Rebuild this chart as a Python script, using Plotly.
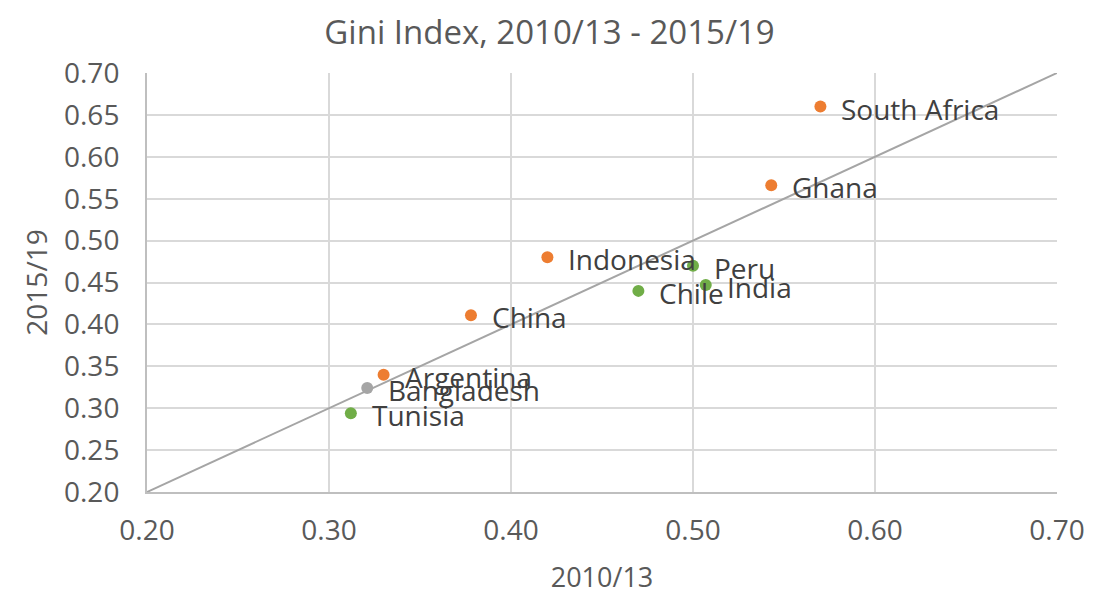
import plotly.graph_objects as go

countries = ["South Africa", "Ghana", "Indonesia", "Peru", "India", "Chile",
             "China", "Argentina", "Bangladesh", "Tunisia"]
gini_2010_13 = [0.570, 0.543, 0.420, 0.500, 0.507, 0.470, 0.378, 0.330, 0.321, 0.312]
gini_2015_19 = [0.660, 0.566, 0.480, 0.470, 0.447, 0.440, 0.411, 0.340, 0.324, 0.294]
groups = ["up", "up", "up", "down", "down", "down", "up", "up", "flat", "down"]

colors = {"up": "#ED7D31", "down": "#70AD47", "flat": "#A5A5A5"}
ticks = [0.20, 0.30, 0.40, 0.50, 0.60, 0.70]
yticks = [0.20, 0.25, 0.30, 0.35, 0.40, 0.45, 0.50, 0.55, 0.60, 0.65, 0.70]

font_family = "Open Sans, Liberation Sans, sans-serif"
text_color = "#595959"

fig = go.Figure()

# 45 degree reference line
fig.add_trace(go.Scatter(
    x=[ticks[0], ticks[-1]], y=[ticks[0], ticks[-1]],
    mode="lines", line=dict(color="#A5A5A5", width=2),
    hoverinfo="skip", showlegend=False
))

fig.add_trace(go.Scatter(
    x=gini_2010_13, y=gini_2015_19,
    mode="markers",
    marker=dict(size=12, color=[colors[g] for g in groups]),
    text=countries, showlegend=False
))

for name, x, y in zip(countries, gini_2010_13, gini_2015_19):
    fig.add_annotation(
        x=x, y=y, text=name, showarrow=False,
        xanchor="left", yanchor="middle", xshift=19, yshift=-2,
        font=dict(family=font_family, size=28, color="#404040")
    )

fig.update_layout(
    width=1112, height=594,
    paper_bgcolor="white", plot_bgcolor="white",
    margin=dict(l=139, r=63, t=65, b=110),
    title=dict(text="Gini Index, 2010/13 - 2015/19", x=0.487, xanchor="center",
               y=0.958, yanchor="middle",
               font=dict(family=font_family, size=33, color=text_color)),
    font=dict(family=font_family, size=28, color=text_color),
    xaxis=dict(
        range=[0.2, 0.7], tickvals=ticks, ticktext=[f"{t:.2f}" for t in ticks],
        showgrid=True, gridcolor="#D9D9D9", gridwidth=2,
        showline=True, linecolor="#BFBFBF", linewidth=2, mirror=False,
        zeroline=False, ticks="", ticklabelstandoff=12, automargin=False,
        title=dict(text="2010/13", standoff=22,
                   font=dict(family=font_family, size=27, color=text_color)),
        tickfont=dict(family=font_family, size=28, color=text_color),
    ),
    yaxis=dict(
        range=[0.2, 0.7], tickvals=yticks, ticktext=[f"{t:.2f}" for t in yticks],
        showgrid=True, gridcolor="#D9D9D9", gridwidth=2,
        showline=True, linecolor="#BFBFBF", linewidth=2,
        zeroline=False, ticks="", ticklabelstandoff=20, automargin=False,
        title=dict(text="2015/19", standoff=8,
                   font=dict(family=font_family, size=28, color=text_color)),
        tickfont=dict(family=font_family, size=28, color=text_color),
    ),
)

fig.write_html("out.html")
